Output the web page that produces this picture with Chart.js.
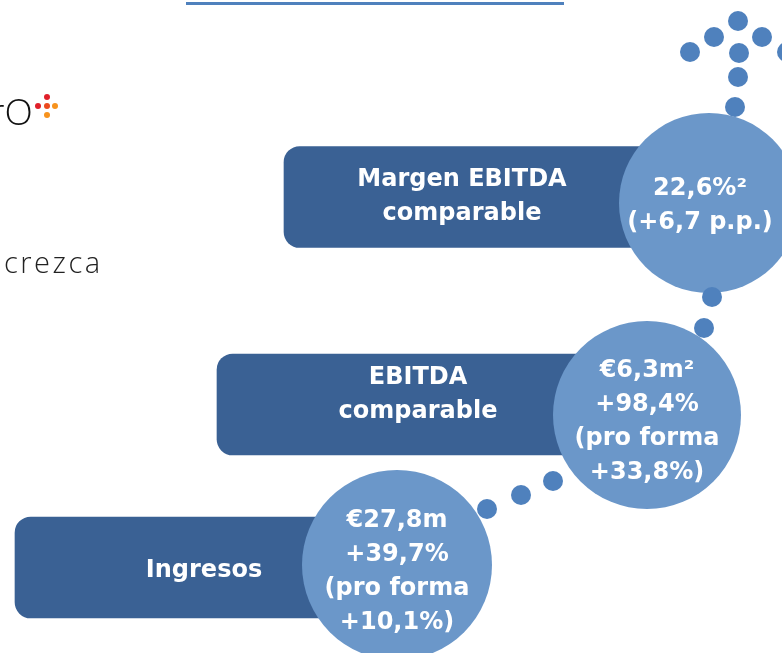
<!DOCTYPE html>
<html>
<head>
<meta charset="utf-8">
<script src="https://cdn.jsdelivr.net/npm/chart.js@4"></script>
<style>
  body { margin: 0; background: #fff; overflow: hidden; }
  #wrap { position: relative; width: 782px; height: 653px; }
  #slideChart { position: absolute; left: 0; top: 0; }
  .topLine { position: absolute; left: 186px; top: 2px; width: 378px; height: 3px; background: #4f81bd; }
  .logo { position: absolute; left: -10px; top: 92px; font-family: "Open Sans", sans-serif; font-weight: 300; font-size: 37px; color: #111; line-height: 1; }
  .ld { position: absolute; width: 6px; height: 6px; border-radius: 50%; }
  .crezca { position: absolute; left: 4px; top: 247px; font-family: "Open Sans", sans-serif; font-weight: 300; font-size: 29px; letter-spacing: 2.5px; color: #222; line-height: 1; }
</style>
</head>
<body>
<div id="wrap">
  <canvas id="slideChart" width="782" height="653"></canvas>
  <div class="topLine"></div>
  <div class="logo">rO</div>
  <span class="ld" style="left:44px;top:94px;background:#e0202a"></span>
  <span class="ld" style="left:35px;top:103px;background:#e0202a"></span>
  <span class="ld" style="left:44px;top:103px;background:#ec4a1e"></span>
  <span class="ld" style="left:52px;top:103px;background:#f7931e"></span>
  <span class="ld" style="left:44px;top:112px;background:#f7931e"></span>
  <div class="crezca">crezca</div>
</div>
<script>
// barras (etiquetas + extremos) -- el eje es el propio lienzo de la diapositiva
const categories = ['Margen EBITDA\ncomparable', 'EBITDA\ncomparable', 'Ingresos'];
const barStart = [284, 217, 15];
const barEnd = [640, 619, 393];
const barRow = [197, 404.5, 567.5];

// circulos con los valores
const circleValues = [
    '22,6%²\n(+6,7 p.p.)',
    '€6,3m²\n+98,4%\n(pro forma\n+33,8%)',
    '€27,8m\n+39,7%\n(pro forma\n+10,1%)'
];
const circleX = [709, 647, 397];
const circleY = [203, 415, 565];
const circleR = [90, 94, 95];

// puntos pequeños (flecha arriba y uniones)
const dotX = [738, 714, 762, 690, 739, 787, 738, 735, 712, 704, 553, 521, 487];
const dotY = [21, 37, 37, 52, 53, 52, 77, 107, 297, 328, 481, 495, 509];

const labelFont = 'bold 24px "DejaVu Sans", sans-serif';
const barNudge = [0, -10, 3];
const circleNudge = [[-9, 3], [0, 7], [0, 7]];

const textPlugin = {
    id: 'slideText',
    afterDatasetsDraw(chart) {
        const ctx = chart.ctx;
        ctx.save();
        ctx.fillStyle = '#ffffff';
        ctx.font = labelFont;
        ctx.textAlign = 'center';
        ctx.textBaseline = 'middle';
        const lh = 34;

        chart.getDatasetMeta(0).data.forEach((el, i) => {
            const lines = categories[i].split('\n');
            const cx = (el.x + el.base) / 2;
            const cy = el.y - (lines.length - 1) * lh / 2 + barNudge[i];
            lines.forEach((t, j) => ctx.fillText(t, cx, cy + j * lh));
        });

        chart.getDatasetMeta(1).data.forEach((el, i) => {
            const lines = circleValues[i].split('\n');
            const cx = el.x + circleNudge[i][0];
            const cy = el.y - (lines.length - 1) * lh / 2 + circleNudge[i][1];
            lines.forEach((t, j) => ctx.fillText(t, cx, cy + j * lh));
        });
        ctx.restore();
    }
};

new Chart(document.getElementById('slideChart'), {
    type: 'bubble',
    data: {
        datasets: [
            {
                type: 'bar',
                indexAxis: 'y',
                data: categories.map((c, i) => ({ y: barRow[i], x: [barStart[i], barEnd[i]] })),
                backgroundColor: '#3a6194',
                barThickness: 101,
                borderSkipped: false,
                borderRadius: { topLeft: 16, bottomLeft: 16, topRight: 0, bottomRight: 0 },
                order: 3,
                clip: false
            },
            {
                type: 'bubble',
                data: circleX.map((x, i) => ({ x: x, y: circleY[i], r: circleR[i] })),
                backgroundColor: '#6b97c9',
                borderWidth: 0,
                order: 2,
                clip: false
            },
            {
                type: 'bubble',
                data: dotX.map((x, i) => ({ x: x, y: dotY[i], r: 10 })),
                backgroundColor: '#4f81bd',
                borderWidth: 0,
                order: 1,
                clip: false
            }
        ]
    },
    options: {
        responsive: false,
        animation: false,
        events: [],
        layout: { padding: 0, autoPadding: false },
        plugins: { legend: { display: false }, tooltip: { enabled: false } },
        scales: {
            x: { type: 'linear', min: 0, max: 782, offset: false, display: false },
            y: { type: 'linear', min: 0, max: 653, reverse: true, offset: false, display: false }
        }
    },
    plugins: [textPlugin]
});
</script>
</body>
</html>
